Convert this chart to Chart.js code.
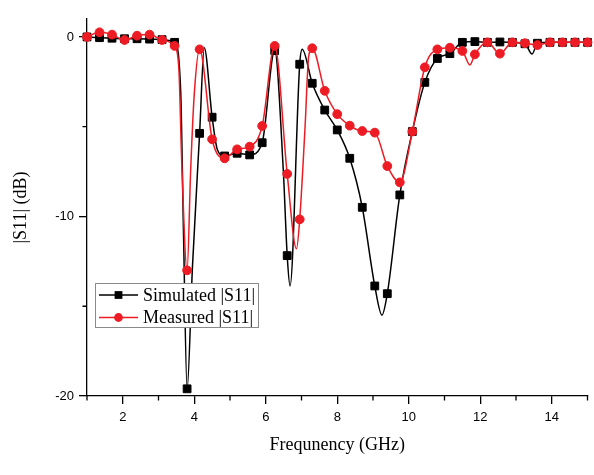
<!DOCTYPE html>
<html lang="en">
<head>
<meta charset="UTF-8">
<title>|S11| simulated and measured</title>
<script src="https://cdn.jsdelivr.net/npm/chart.js@4.4.1/dist/chart.umd.min.js"></script>
<style>
  body { margin: 0; background: #fff; }
  #wrap { width: 594px; height: 475px; }
</style>
</head>
<body>
<div id="wrap"><canvas id="s11Chart" width="594" height="475"></canvas></div>
<script>
// marker points, one every 0.35 GHz
const freq = [1.00, 1.35, 1.70, 2.05, 2.40, 2.75, 3.10, 3.45, 3.80, 4.15,
              4.50, 4.85, 5.20, 5.55, 5.90, 6.25, 6.60, 6.95, 7.30, 7.65,
              8.00, 8.35, 8.70, 9.05, 9.40, 9.75, 10.10, 10.45, 10.80, 11.15,
              11.50, 11.85, 12.20, 12.55, 12.90, 13.25, 13.60, 13.95, 14.30, 14.65, 15.00];
const simulated = [0, -0.04, -0.07, -0.1, -0.1, -0.12, -0.15, -0.3, -19.6, -5.37,
                   -4.47, -6.63, -6.48, -6.57, -5.89, -0.76, -12.18, -1.52, -2.58, -4.07,
                   -5.18, -6.76, -9.49, -13.87, -14.3, -8.8, -5.27, -2.53, -1.2, -0.93,
                   -0.3, -0.26, -0.3, -0.28, -0.3, -0.38, -0.35, -0.3, -0.3, -0.3, -0.3];
const measured = [0, 0.26, 0.13, -0.17, 0.07, 0.13, -0.17, -0.5, -13.0, -0.69,
                  -5.7, -6.76, -6.26, -6.11, -4.96, -0.5, -7.63, -10.16, -0.63, -3.0,
                  -4.3, -4.94, -5.24, -5.33, -7.19, -8.1, -5.27, -1.69, -0.69, -0.6,
                  -0.78, -0.97, -0.3, -0.93, -0.3, -0.35, -0.45, -0.3, -0.3, -0.3, -0.3];

// extra curve points between markers (sharp dips and peaks), no marker drawn
const simDetailFreq = [3.62, 3.70, 3.95, 4.28, 4.65, 6.49, 6.68, 7.02, 9.25, 13.45];
const simDetail     = [-3.0, -11.0, -12.8, -0.6, -6.3, -7.4, -13.87, -0.69, -15.5, -0.95];
const measDetailFreq = [3.57, 3.65, 3.90, 4.00, 6.86, 7.10, 7.20, 11.71];
const measDetail     = [-1.8, -7.0, -7.4, -3.2, -11.8, -5.0, -1.1, -1.56];

const xMajorTicks = [2, 4, 6, 8, 10, 12, 14];
const xMinorTicks = [1, 3, 5, 7, 9, 11, 13, 15];
const yMajorTicks = [-20, -10, 0];
const yMinorTicks = [-15, -5];
const seriesNames = ['Simulated |S11|', 'Measured |S11|'];

function buildPoints(mx, my, dx, dy) {
  const pts = mx.map((x, i) => ({ x: x, y: my[i], m: true }));
  dx.forEach((x, i) => pts.push({ x: x, y: dy[i], m: false }));
  return pts.sort((a, b) => a.x - b.x);
}

// short minor ticks on both axes
const minorTicks = {
  id: 'minorTicks',
  afterDraw(chart) {
    const ctx = chart.ctx, xs = chart.scales.x, ys = chart.scales.y;
    ctx.save();
    ctx.strokeStyle = '#000';
    ctx.lineWidth = 1.3;
    ctx.beginPath();
    xMinorTicks.forEach(v => {
      const px = xs.getPixelForValue(v);
      ctx.moveTo(px, xs.top);
      ctx.lineTo(px, xs.top + 4.5);
    });
    yMinorTicks.forEach(v => {
      const py = ys.getPixelForValue(v);
      ctx.moveTo(ys.right, py);
      ctx.lineTo(ys.right - 4.5, py);
    });
    ctx.stroke();
    ctx.restore();
  }
};

// framed legend with line + marker samples
const boxLegend = {
  id: 'boxLegend',
  afterDatasetsDraw(chart) {
    const ctx = chart.ctx;
    const x0 = 95, y0 = 283, w = 163, h = 44;
    ctx.save();
    ctx.fillStyle = '#fff';
    ctx.fillRect(x0, y0, w, h);
    ctx.strokeStyle = '#8a8a8a';
    ctx.lineWidth = 1;
    ctx.strokeRect(x0 + 0.5, y0 + 0.5, w, h);
    chart.data.datasets.forEach((ds, i) => {
      const y = y0 + 12 + i * 22.5;
      const cx = x0 + 23.5;
      ctx.strokeStyle = ds.borderColor;
      ctx.lineWidth = 1.5;
      ctx.beginPath();
      ctx.moveTo(x0 + 4, y);
      ctx.lineTo(x0 + 43, y);
      ctx.stroke();
      ctx.fillStyle = ds.borderColor;
      ctx.beginPath();
      if (ds.pointStyle === 'rect') {
        const s = ds.markerSize * Math.SQRT1_2;
        ctx.rect(cx - s, y - s, 2 * s, 2 * s);
      } else {
        ctx.arc(cx, y, ds.markerSize, 0, Math.PI * 2);
      }
      ctx.fill();
      ctx.fillStyle = '#000';
      ctx.font = '18px "Liberation Serif", "Times New Roman", serif';
      ctx.textBaseline = 'middle';
      ctx.textAlign = 'left';
      ctx.fillText(ds.label, x0 + 48, y + 1);
    });
    ctx.restore();
  }
};

Chart.defaults.font.family = '"Liberation Sans", Arial, sans-serif';
Chart.defaults.color = '#000';

const titleFont = { family: '"Liberation Serif", "Times New Roman", serif', size: 18 };

new Chart(document.getElementById('s11Chart'), {
  type: 'line',
  data: {
    datasets: [
      {
        label: seriesNames[0],
        data: buildPoints(freq, simulated, simDetailFreq, simDetail),
        borderColor: '#000000',
        backgroundColor: '#000000',
        borderWidth: 1.5,
        pointStyle: 'rect',
        markerSize: 5.5,
        pointRadius: c => (c.raw && c.raw.m ? 5.5 : 0),
        pointBorderWidth: 1,
        cubicInterpolationMode: 'monotone',
        clip: false,
        order: 2
      },
      {
        label: seriesNames[1],
        data: buildPoints(freq, measured, measDetailFreq, measDetail),
        borderColor: '#ed1c24',
        backgroundColor: '#ed1c24',
        borderWidth: 1.5,
        pointStyle: 'circle',
        markerSize: 4.4,
        pointRadius: c => (c.raw && c.raw.m ? 4.4 : 0),
        pointBorderWidth: 1,
        cubicInterpolationMode: 'monotone',
        clip: false,
        order: 1
      }
    ]
  },
  options: {
    responsive: false,
    animation: false,
    events: [],
    layout: { padding: { top: 19, right: 0, left: 0, bottom: 0 } },
    plugins: { legend: { display: false }, tooltip: { enabled: false } },
    scales: {
      x: {
        type: 'linear',
        min: 1,
        max: 15,
        afterBuildTicks: s => { s.ticks = xMajorTicks.map(v => ({ value: v })); },
        afterFit: s => { s.height = 79; },
        border: { color: '#000', width: 1.3 },
        grid: { drawOnChartArea: false, tickLength: 8, color: '#000', lineWidth: 1.3 },
        ticks: { color: '#000', font: { size: 13 }, padding: 6, maxRotation: 0, callback: v => String(v) },
        title: { display: true, text: 'Frequnency (GHz)', font: titleFont, color: '#000', padding: { top: 0, bottom: 19 } }
      },
      y: {
        type: 'linear',
        min: -20,
        max: 1,
        afterBuildTicks: s => { s.ticks = yMajorTicks.map(v => ({ value: v })); },
        afterFit: s => { s.width = 87; },
        border: { color: '#000', width: 1.3 },
        grid: { drawOnChartArea: false, tickLength: 8, color: '#000', lineWidth: 1.3 },
        ticks: { color: '#000', font: { size: 13 }, padding: 5, callback: v => String(v) },
        title: { display: true, text: '|S11| (dB)', font: titleFont, color: '#000', padding: { top: 10, bottom: 0 } }
      }
    }
  },
  plugins: [minorTicks, boxLegend]
});
</script>
</body>
</html>
